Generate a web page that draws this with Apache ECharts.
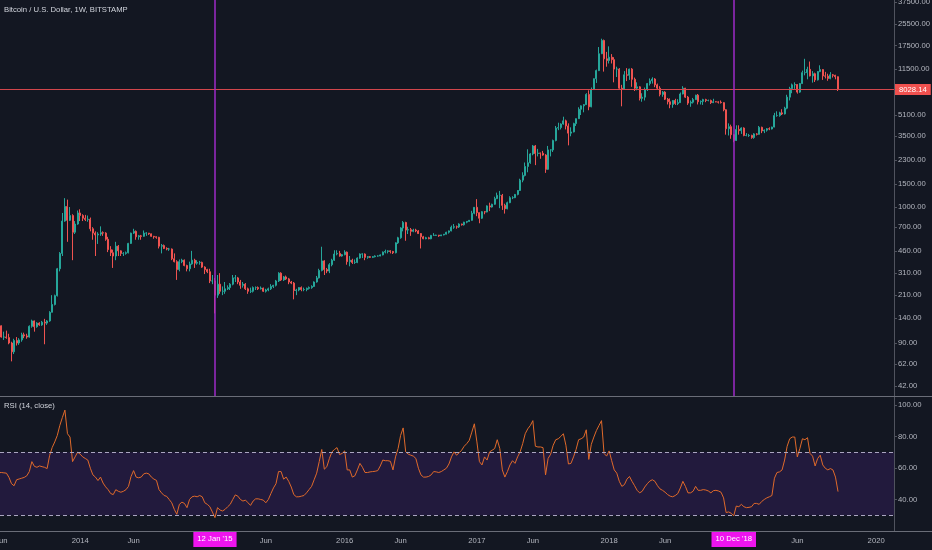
<!DOCTYPE html>
<html><head><meta charset="utf-8">
<script src="https://cdn.jsdelivr.net/npm/echarts@6/dist/echarts.min.js"></script>
<style>html,body{margin:0;padding:0;background:#131722;}#c{width:932px;height:550px;}</style>
</head><body><div id="c"></div>
<script>
// Weekly candles (Monday weeks) starting at firstWeek; open = previous week's close
const firstWeek = '2013-05-27';
const firstOpen = 129;
const closes = [
122,100,100,99,90,77,94,90,95,104,102,100,121,133,120,128,124,130,128,133,155,178,208,335,440,780,1010,790,860,640,740,900,
860,820,800,805,680,630,610,620,635,630,565,470,445,420,500,460,440,440,445,525,630,650,590,600,595,630,630,622,595,590,585,500,505,480,475,475,400,380,330,380,390,355,335,365,390,370,375,375,345,330,318,270,
270,210,255,225,225,235,240,255,285,285,265,250,255,235,225,225,240,240,235,238,225,230,235,245,250,270,310,275,290,280,265,260,228,230,240,232,232,237,240,245,265,285,325,385,330,322,360,390,435,440,420,430,
450,380,390,375,375,405,435,435,410,415,410,415,420,420,428,450,455,460,455,445,530,580,690,760,665,670,650,665,655,625,590,570,580,570,605,605,608,600,610,618,640,655,700,705,702,740,730,765,775,790,895,995,
905,820,920,915,1020,1000,1050,1160,1230,1230,1030,970,1080,1180,1180,1250,1340,1610,1750,2050,2190,2560,2950,2580,2600,2590,2510,1950,2750,2750,3250,4050,4080,4350,4600,4200,3700,3780,4380,4780,5650,6000,6130,7350,5900,8000,9700,11200,15100,19100,13800,13400,
14200,13600,11500,11500,8200,8100,10400,10300,11500,9600,8200,8400,6850,7000,8000,8900,9350,9650,8700,8200,7350,7650,6750,6450,6150,6600,6250,6350,7400,8200,7000,6300,6400,6700,7250,6450,6500,6700,6600,6600,6350,6450,6430,6400,6350,5600,4000,4150,3600,3250,3950,3870,4050,
3550,3550,3550,3420,3650,3620,4100,3850,3900,4000,3980,4120,5050,5050,5300,5200,5750,7000,8150,8700,8750,7650,8900,10800,10800,11450,10200,10600,9500,11000,11400,10200,10150,9750,10400,10300,10050,8028.14
];
const highs = [
135,123,110,112,106,92,97,100,98,108,108,106,123,136,134,130,130,133,138,135,158,210,212,340,450,900,1170,1140,1000,880,780,940,
960,880,870,860,830,700,650,640,710,650,640,590,500,470,540,510,465,450,455,530,635,680,660,610,610,660,640,632,625,600,595,590,520,515,490,485,480,440,390,395,400,395,360,380,460,400,390,385,380,350,335,335,
300,285,300,310,245,265,250,260,300,300,290,275,265,260,240,240,245,245,245,245,240,235,240,255,252,275,315,315,295,297,285,270,265,235,242,245,240,240,245,250,268,295,335,495,390,340,370,400,465,465,460,435,
465,455,420,400,395,410,440,440,440,420,420,420,425,425,432,455,470,465,465,460,535,590,700,780,770,705,690,680,680,665,630,600,590,590,610,630,612,610,612,620,645,660,720,740,720,750,745,770,780,795,935,1000,
1150,910,930,930,1030,1080,1060,1200,1290,1330,1260,1060,1100,1210,1210,1260,1350,1650,1850,2200,2780,2600,3000,3000,2800,2620,2700,2550,2950,2780,3300,4200,4450,4400,4950,4700,4400,4100,4450,4800,5850,6050,6200,7500,7900,8300,9750,11400,17000,19700,19400,15600,
17200,15000,14200,12000,11700,8700,11100,11700,11600,11700,9900,9100,8500,7500,8300,9000,9750,9950,9800,8900,8500,7800,7780,6900,6850,6650,6800,6750,7600,8500,8250,7150,6600,6900,7300,7400,6600,6800,6800,6700,6700,6800,6500,6500,6600,6400,5650,4400,4300,3620,4250,4250,4100,
4100,3700,3650,3600,3700,3700,4200,4150,3950,4050,4100,4150,5300,5450,5400,5650,5900,7300,8400,8900,9100,8800,9000,11200,13800,12000,13150,11100,10800,11100,12300,11500,10950,10600,10900,10550,10400,10100
];
const lows = [
118,99,95,97,88,65,74,86,87,92,98,97,99,118,110,118,122,122,88,124,131,155,175,205,320,420,770,540,780,390,620,730,
780,780,780,770,650,560,420,520,600,600,550,450,420,340,390,420,420,420,430,440,520,620,560,560,560,590,600,610,590,570,570,480,440,475,465,460,390,375,275,320,370,350,320,320,360,340,360,360,340,305,310,260,
255,152,200,215,210,215,230,230,250,265,255,235,240,230,215,218,220,230,230,232,222,220,225,230,238,245,265,270,270,275,255,255,195,210,225,225,225,225,232,235,243,262,282,320,300,310,310,350,385,425,415,415,
425,360,350,365,365,370,400,405,390,400,405,405,410,415,418,425,440,440,440,435,440,520,570,650,550,620,600,640,640,620,480,565,565,565,565,600,600,590,598,605,615,625,650,680,680,690,720,720,750,770,785,880,
850,750,810,880,910,930,990,1040,1150,980,950,890,960,1070,1150,1170,1230,1330,1550,1720,1850,2150,2500,2100,2450,2350,2480,1830,1930,2450,2650,3200,3900,3950,4300,3950,2980,3500,3750,4200,4750,5100,5350,6100,5550,5850,7950,9000,11100,15000,11000,12000,
12700,12700,9100,10000,8100,5950,8000,9300,9500,8400,7800,7900,6600,6450,6600,7800,8600,8900,8350,7950,7100,7050,6650,6150,5750,5800,6100,6080,6330,7350,6900,6100,5900,6250,6650,6150,6150,6100,6400,6500,6200,6300,6400,6250,6250,5450,3600,3550,3350,3150,3220,3600,3650,
3500,3500,3460,3350,3350,3550,3600,3700,3700,3800,3900,3950,4100,4950,4950,5100,5150,5650,6600,7500,8100,7450,7550,8850,10300,9600,10100,9050,9150,9400,10900,9500,9750,9350,9600,9900,9600,7800
];
const rsi = [
57,
57.1,56.9,56.7,54,50,48.7,52.5,53,53.5,54,
55,57.7,64,61,60.4,61.3,60.8,60.4,59.6,68,
73,76.5,80.6,87,92,96.7,81.7,79.6,64,67,
70,68.75,67,66,65,59.8,55.6,54.2,52,54.2,
50.4,48,46.2,43.75,43.1,46.2,45.2,44.6,45.2,46.2,
48.3,54.6,58.3,54.2,53.75,54.2,56.25,56.7,56.25,54.2,
52.9,52.1,46.25,44.2,42.5,42,40,37.9,33.75,30.6,
36.9,38.3,37.5,34.8,40,41.7,42.1,41.7,42.5,41.7,
37.9,36.9,35.4,32,28.5,34.8,33.3,32.7,33.75,35.4,
36.9,40,42.9,42.1,40,39,39.6,37.9,36.25,39,
40.4,40.4,40,39.6,37.9,40,43.75,47.3,50,57.7,
57.7,52.9,54.2,51.5,47.9,43.1,41.7,41.7,42.1,42.5,
44.2,46.25,48.3,52.5,56.7,64,71.7,59.2,60.8,66,
70.2,71.7,72.9,68.5,69.2,70.8,58.75,58.75,54.2,55,
58.75,62.9,60.4,57.1,57.1,57.5,57.7,57.9,58.3,61.25,
65,64.6,64.6,64.2,58.75,67,72.3,80.6,85.4,70.2,
68.75,68.1,67.5,66,59.8,55.6,54.2,54.2,54.6,55.6,
57.7,57.5,57.1,57.7,58.75,59.8,62.5,67,70.2,68.1,
69.6,71.25,73.75,75.4,77.5,82.7,88,76.5,64,61.9,
67,65,70.2,71.25,72.3,77.9,72.3,58.75,54.2,57.7,
61.9,64.6,62.9,67,70.2,75.4,81.7,84.8,86.9,90,
73.75,73.3,73.3,72.9,55.6,66,68.75,74.4,77.9,78.5,
80,81.7,74.4,62.5,62.9,67,71.7,77.9,78.5,79.6,
84.2,65.4,75,79.6,83.75,86.9,90,69.2,67.5,70.8,
64.6,58.75,56.7,51.5,48.3,49.4,52.9,54.6,51.5,48.75,
45.8,44.2,45.2,47.9,50,51.7,52.5,51.5,48.75,46.7,
45.8,44.6,43.1,42.1,41.7,42.5,43.75,47.3,51.5,48.3,
44.2,44.2,45.2,48.3,45.8,45.8,46.25,46,45.4,44.2,
45.6,45.8,45.4,44.6,41,31.7,32.1,31.25,29.6,35.8,
35.4,36.9,35.4,34.8,35,35.4,37.5,37.5,36.9,38.75,
40,41,41.7,42.5,53.5,57.1,57.5,58.75,65,73.75,
78.5,79.6,79.6,67,72.3,78.5,77.9,79.2,69.2,67.5,
61.25,66,68.1,61.9,59.8,58.75,59.6,58.75,54.2,45
];
const priceTicks = [42,62,90,140,210,310,460,700,1000,1500,2300,3500,5100,7600,11500,17500,25500,37500];
const rsiTicks = [40,60,80,100];
const rsiBand = [30,70];
const xTickDates = ['2013-06-03','2014-01-06','2014-06-02','2015-01-12','2015-06-01','2016-01-04','2016-06-06','2017-01-02','2017-06-05','2018-01-01','2018-06-04','2018-12-10','2019-06-03','2020-01-06'];
const xTickLabels = ['Jun','2014','Jun',"12 Jan '15",'Jun','2016','Jun','2017','Jun','2018','Jun',"10 Dec '18",'Jun','2020'];
const markerDates = ['2015-01-12','2018-12-10'];
const titleText = 'Bitcoin / U.S. Dollar, 1W, BITSTAMP';
const rsiTitle = 'RSI (14, close)';

const DAY = 864e5;
const t0 = Date.parse(firstWeek);
const weeks = closes.map((_, i) => t0 + i * 7 * DAY);
const opens = closes.map((c, i) => i === 0 ? firstOpen : closes[i - 1]);
const candles = weeks.map((t, i) => [t, opens[i], closes[i], lows[i], highs[i]]);
const rsiData = weeks.map((t, i) => [t, rsi[i]]);
const lastPrice = closes[closes.length - 1];
const xMin = t0 + 3.3 * DAY;
const xMax = xMin + 2460.8 * DAY;
const xTicks = xTickDates.map(d => Date.parse(d));
const markers = markerDates.map(d => Date.parse(d));
const pMin = 35.2, pMax = 39100;
const FONT = 'Liberation Sans';
const FS = 7.7;
const TXT = '#b2b5be';
const AX = '#50535e';
const PRICE_LINE = '#d2464c';
const MARKER = '#9f2bc9';

function xLabel(v) {
  let k = -1, best = Infinity;
  xTicks.forEach((t, i) => { const d = Math.abs(t - v); if (d < best) { best = d; k = i; } });
  if (k < 0 || best > 2 * DAY) return '';
  const txt = xTickLabels[k];
  return markers.indexOf(xTicks[k]) >= 0 ? '{h|' + txt + '}' : '{n|' + txt + '}';
}

const chart = echarts.init(document.getElementById('c'), null, {renderer: 'canvas'});
chart.setOption({
  animation: false,
  backgroundColor: '#131722',
  textStyle: {fontFamily: FONT},
  title: [
    {text: titleText, left: 4, top: 6, padding: 0, textStyle: {fontSize: FS, color: '#d1d4dc', fontWeight: 'normal', fontFamily: FONT}},
    {text: rsiTitle, left: 4, top: 402, padding: 0, textStyle: {fontSize: FS, color: '#d1d4dc', fontWeight: 'normal', fontFamily: FONT}}
  ],
  grid: [
    {left: 0, right: 38, top: 0, height: 396, outerBoundsMode: 'none', containLabel: false},
    {left: 0, right: 38, top: 397, height: 134, outerBoundsMode: 'none', containLabel: false}
  ],
  xAxis: [
    {type: 'value', gridIndex: 0, min: xMin, max: xMax, axisLine: {show: false}, axisTick: {show: false}, axisLabel: {show: false}, splitLine: {show: false}},
    {type: 'value', gridIndex: 1, min: xMin, max: xMax, axisLine: {show: false}, axisTick: {show: false}, splitLine: {show: false},
      axisLabel: {customValues: xTicks, formatter: xLabel, margin: 0, fontSize: FS, color: TXT, fontFamily: FONT,
        showMinLabel: true, showMaxLabel: true,
        rich: {
          n: {fontSize: FS, color: TXT, fontFamily: FONT, padding: [6, 2, 2, 2]},
          h: {fontSize: FS, color: '#ffffff', fontFamily: FONT, backgroundColor: '#ee14ee', padding: [4, 4, 4, 4]}
        }}}
  ],
  yAxis: [
    {type: 'log', gridIndex: 0, position: 'right', min: pMin, max: pMax, logBase: 10,
      axisLine: {show: true, lineStyle: {color: AX}}, axisTick: {show: false}, axisLabel: {show: false}, splitLine: {show: false}},
    {type: 'value', gridIndex: 0, position: 'right', min: Math.log10(pMin), max: Math.log10(pMax),
      axisLine: {show: false}, splitLine: {show: false},
      axisTick: {show: true, length: 3, customValues: priceTicks.map(Math.log10), lineStyle: {color: AX}},
      axisLabel: {customValues: priceTicks.map(Math.log10), formatter: v => Math.pow(10, v).toFixed(2), margin: 4, fontSize: FS, color: TXT, fontFamily: FONT}},
    {type: 'value', gridIndex: 1, position: 'right', min: 20, max: 105,
      axisLine: {show: true, lineStyle: {color: AX}}, splitLine: {show: false},
      axisTick: {show: true, length: 3, customValues: rsiTicks, lineStyle: {color: AX}},
      axisLabel: {customValues: rsiTicks, formatter: v => Number(v).toFixed(2), margin: 4, fontSize: FS, color: TXT, fontFamily: FONT}}
  ],
  graphic: [
    {type: 'line', silent: true, z: 10, shape: {x1: 0, y1: 396.5, x2: 932, y2: 396.5}, style: {stroke: '#6a6d78', lineWidth: 1}},
    {type: 'line', silent: true, z: 10, shape: {x1: 0, y1: 531.5, x2: 932, y2: 531.5}, style: {stroke: '#6a6d78', lineWidth: 1}}
  ],
  series: [
    {
      type: 'candlestick', xAxisIndex: 0, yAxisIndex: 0, data: candles, barWidth: 1.5,
      itemStyle: {color: '#26a69a', color0: '#ef5350', borderColor: '#26a69a', borderColor0: '#ef5350', borderWidth: 1},
      markLine: {
        silent: true, symbol: ['none', 'none'], animation: false,
        label: {show: false},
        lineStyle: {color: PRICE_LINE, width: 1, type: 'solid', opacity: 1},
        emphasis: {disabled: true},
        data: [
          {yAxis: lastPrice, lineStyle: {color: PRICE_LINE, width: 1, type: 'solid', opacity: 1},
            label: {show: true, position: 'end', distance: 1, formatter: lastPrice.toFixed(2), color: '#ffffff',
              backgroundColor: '#f0514f', padding: [2, 4, 1, 4], fontSize: FS, fontFamily: FONT}},
          {xAxis: markers[0], lineStyle: {color: MARKER, width: 1.5, type: 'solid', opacity: 1}},
          {xAxis: markers[1], lineStyle: {color: MARKER, width: 1.5, type: 'solid', opacity: 1}}
        ]
      }
    },
    {
      type: 'line', xAxisIndex: 1, yAxisIndex: 2, data: rsiData, showSymbol: false, symbol: 'none',
      lineStyle: {color: '#e06a2b', width: 1},
      markArea: {silent: true, itemStyle: {color: '#221a3d', opacity: 1}, data: [[{yAxis: rsiBand[0]}, {yAxis: rsiBand[1]}]]},
      markLine: {silent: true, symbol: ['none', 'none'], label: {show: false},
        lineStyle: {color: '#aaa5c0', width: 1, type: [4, 3]},
        data: rsiBand.map(v => ({yAxis: v}))}
    }
  ]
});
</script>
</body></html>
